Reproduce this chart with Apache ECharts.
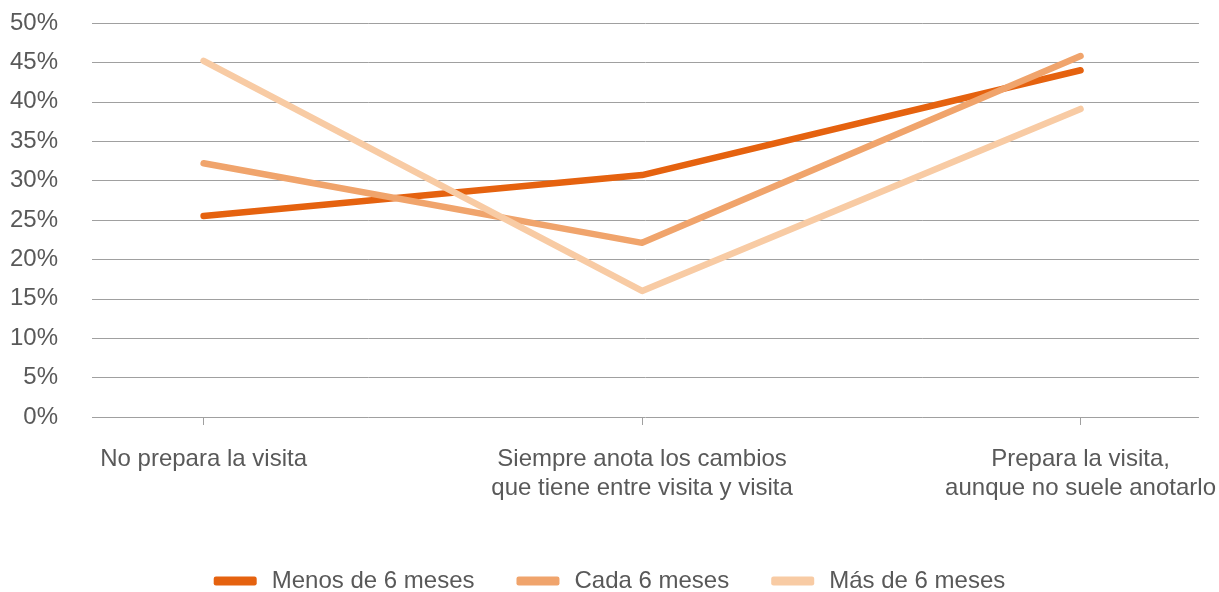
<!DOCTYPE html>
<html>
<head>
<meta charset="utf-8">
<script src="https://cdn.jsdelivr.net/npm/echarts@6/dist/echarts.min.js"></script>
<style>
  html, body { margin: 0; padding: 0; background: #fff; overflow: hidden; }
  #chart { width: 1219px; height: 592px; }
</style>
</head>
<body>
<div id="chart"></div>
<script>
  // categories on the x axis
  const categories = [
    'No prepara la visita',
    'Siempre anota los cambios\nque tiene entre visita y visita',
    'Prepara la visita,\naunque no suele anotarlo'
  ]
  const seriesNames = ['Menos de 6 meses', 'Cada 6 meses', 'Más de 6 meses']
  // percentages
  const menos = [25.5, 30.7, 44.0]
  const cada = [32.2, 22.1, 45.8]
  const mas = [45.2, 16.0, 39.1]
  const colors = ['#E5620F', '#F0A46C', '#F8CBA4']

  const textColor = '#595959'
  const font = 'Liberation Sans, Arial, sans-serif'

  const toPoints = (arr) => arr.map((v, i) => [i, v])

  const chart = echarts.init(document.getElementById('chart'))
  const option = {
    animation: false,
    color: colors,
    grid: {
      left: 92,
      right: 17,
      top: 23,
      bottom: 175,
      containLabel: false
    },
    legend: {
      top: 564,
      left: 'center',
      icon: 'roundRect',
      itemWidth: 43,
      itemHeight: 9,
      itemGap: 42,
      textStyle: {
        color: textColor,
        fontSize: 24,
        fontFamily: font,
        padding: [0, 0, 0, 10]
      },
      data: seriesNames
    },
    xAxis: {
      type: 'value',
      min: -0.2545,
      max: 2.27,
      splitLine: { show: false },
      axisLine: { show: false },
      axisTick: {
        show: true,
        customValues: [0, 1, 2],
        length: 8,
        lineStyle: { color: '#A0A0A0' }
      },
      axisLabel: {
        customValues: [0, 1, 2],
        formatter: (v) => categories[Math.round(v)],
        color: textColor,
        fontSize: 24,
        fontFamily: font,
        lineHeight: 29,
        margin: 28,
        align: 'center'
      }
    },
    yAxis: {
      type: 'value',
      min: 0,
      max: 50,
      interval: 5,
      axisLine: { show: false },
      axisTick: { show: false },
      splitLine: { lineStyle: { color: '#A0A0A0', width: 1 } },
      axisLabel: {
        formatter: '{value}%',
        color: textColor,
        fontSize: 24,
        fontFamily: font,
        margin: 34,
        padding: [6, 0, 0, 0]
      }
    },
    series: [
      { name: seriesNames[0], data: toPoints(menos) },
      { name: seriesNames[1], data: toPoints(cada) },
      { name: seriesNames[2], data: toPoints(mas) }
    ].map((s, i) => ({
      ...s,
      type: 'line',
      symbol: 'none',
      z: 2 + i,
      lineStyle: { width: 6.5, color: colors[i], cap: 'round', join: 'round' },
      itemStyle: { color: colors[i] }
    }))
  }
  chart.setOption(option, true)
</script>
</body>
</html>
